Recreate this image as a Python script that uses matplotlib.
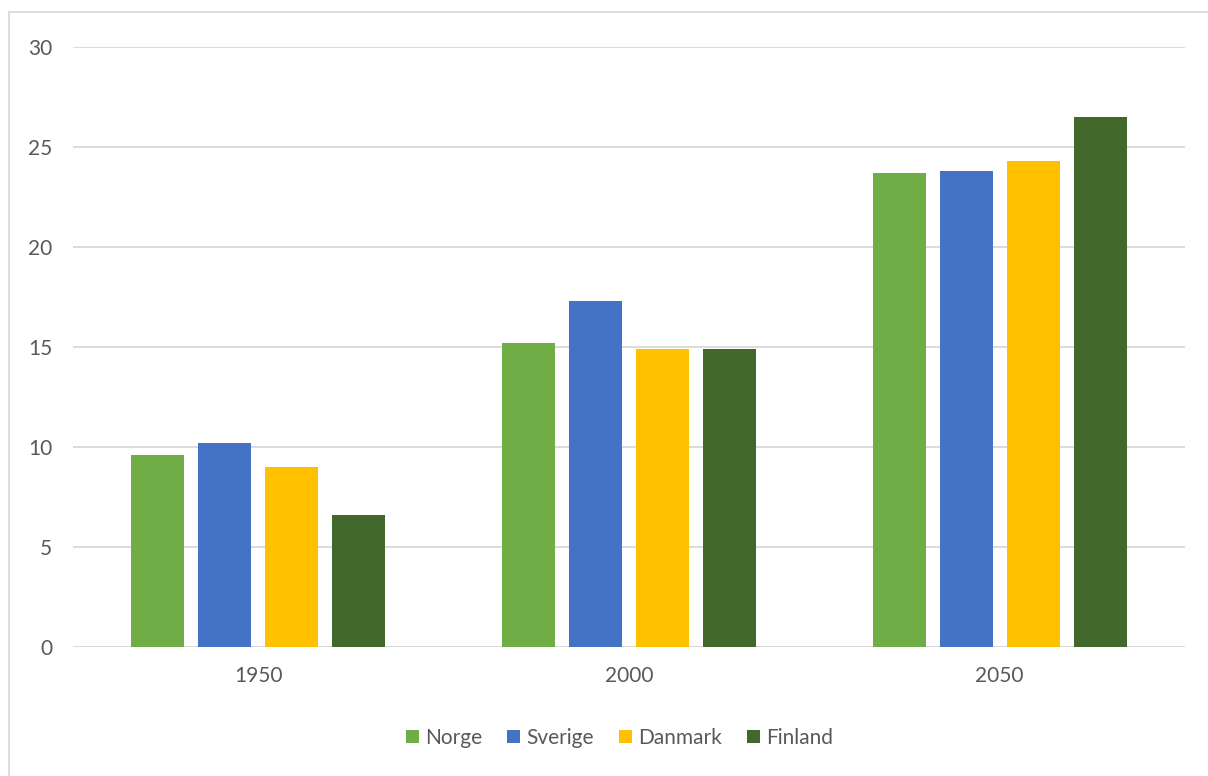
import matplotlib
matplotlib.use("Agg")
import matplotlib.pyplot as plt
from matplotlib.patches import Rectangle
import numpy as np

years = ["1950", "2000", "2050"]
countries = ["Norge", "Sverige", "Danmark", "Finland"]
norge = [9.6, 15.2, 23.7]
sverige = [10.2, 17.3, 23.8]
danmark = [9.0, 14.9, 24.3]
finland = [6.6, 14.9, 26.5]
yticks = [0, 5, 10, 15, 20, 25, 30]

series = [norge, sverige, danmark, finland]
colors = ["#70AD47", "#4472C4", "#FFC000", "#43682B"]

plt.rcParams["font.family"] = ["Lato", "DejaVu Sans"]
text_color = "#595959"
grid_color = "#D9D9D9"
W, H = 1208, 776

fig = plt.figure(figsize=(W / 100, H / 100), dpi=100)
fig.patch.set_facecolor("white")

# outer chart frame
fig.patches.append(Rectangle((9 / W, -0.1), 1.2, 1.1 - 12 / H,
                             transform=fig.transFigure, fill=False,
                             edgecolor=grid_color, linewidth=1.3))

ax = fig.add_axes([73 / W, 1 - 647 / H, (1185 - 73) / W, (647 - 47) / H])
x = np.arange(len(years))
width = 0.143
step = 0.181
for i, (vals, c, name) in enumerate(zip(series, colors, countries)):
    ax.bar(x + (i - 1.5) * step, vals, width=width, color=c, label=name, zorder=3)

ax.set_xlim(-0.5, 2.5)
ax.set_ylim(0, 30)
ax.set_yticks(yticks)
ax.set_xticks(x)
ax.set_xticklabels(years)
ax.yaxis.grid(True, color=grid_color, linewidth=1.3, zorder=0)
ax.set_axisbelow(True)
for s in ax.spines.values():
    s.set_visible(False)
ax.tick_params(axis="both", length=0, labelsize=15, labelcolor=text_color)
ax.tick_params(axis="y", pad=15)
ax.tick_params(axis="x", pad=14)
ax.axhline(0, color=grid_color, linewidth=1.3, zorder=1)

# legend row: square swatch followed by label, all on a common baseline
fig.canvas.draw()
renderer = fig.canvas.get_renderer()
sw = 13          # swatch size, px
gap_txt = 6      # swatch to label, px
gap_item = 25    # label to next swatch, px
baseline = 744   # px from top
items = []
total = 0
for name in countries:
    t = fig.text(0, 0, name, fontsize=15, color=text_color, va="baseline",
                 ha="left", transform=None)
    w = t.get_window_extent(renderer).width
    t.remove()
    items.append(w)
    total += sw + gap_txt + w
total += gap_item * (len(countries) - 1)
xpos = 619.5 - total / 2
for name, c, w in zip(countries, colors, items):
    fig.patches.append(Rectangle((xpos / W, 1 - (baseline - 1) / H), sw / W, sw / H,
                                 transform=fig.transFigure, facecolor=c,
                                 edgecolor="none"))
    fig.text((xpos + sw + gap_txt) / W, 1 - baseline / H, name, fontsize=15,
             color=text_color, va="baseline", ha="left")
    xpos += sw + gap_txt + w + gap_item

fig.savefig("out.png", dpi=100, facecolor="white")
